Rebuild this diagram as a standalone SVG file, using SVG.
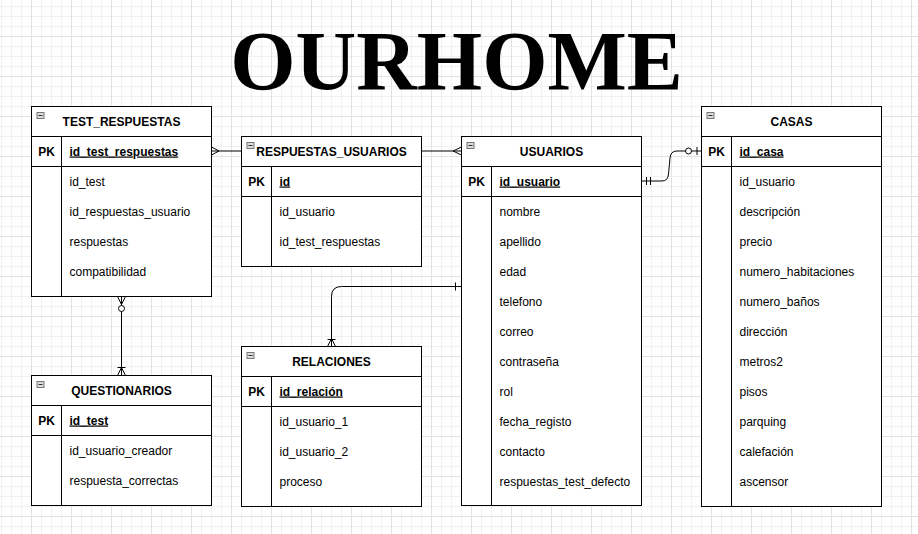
<svg xmlns="http://www.w3.org/2000/svg" width="918" height="534" viewBox="0 0 918 534">
<style>
.t{fill:#fff;stroke:#000;stroke-width:1}
.ln{fill:none;stroke:#000;stroke-width:1}
.hd{font-family:"Liberation Sans",Arial,sans-serif;font-size:12px;font-weight:bold;text-anchor:middle;fill:#000}
.pk{font-family:"Liberation Sans",Arial,sans-serif;font-size:12px;font-weight:bold;text-anchor:middle;fill:#000}
.pf{font-family:"Liberation Sans",Arial,sans-serif;font-size:12px;font-weight:bold;text-decoration:underline;fill:#000}
.f{font-family:"Liberation Sans",Arial,sans-serif;font-size:12px;fill:#000}
.ic{fill:#dcdcdc;stroke:#777;stroke-width:1}
.icm{stroke:#333;stroke-width:1}
.c{fill:none;stroke:#000;stroke-width:1}
.ci{fill:#fff;stroke:#000;stroke-width:1}
.title{font-family:"Liberation Serif","Times New Roman",serif;font-size:84px;font-weight:bold;text-anchor:middle;fill:#000}
</style>
<defs>
<pattern id="grid" x="31" y="36" width="40" height="40" patternUnits="userSpaceOnUse">
<path d="M10.5 0V40M20.5 0V40M30.5 0V40M0 10.5H40M0 20.5H40M0 30.5H40" fill="none" stroke="#f1f1f1" stroke-width="1"/>
<path d="M0.5 0V40M0 0.5H40" fill="none" stroke="#e2e2e2" stroke-width="1"/>
</pattern>
</defs>
<rect x="0" y="0" width="918" height="534" fill="#fff"/>
<rect x="0" y="0" width="918" height="534" fill="url(#grid)"/>

<text class="title" x="456.5" y="90">OURHOME</text>

<g id="connectors">
<!-- TEST_RESPUESTAS - RESPUESTAS_USUARIOS -->
<path class="c" d="M211.5 151H241.5"/>
<path class="c" d="M211.5 147L219 151L211.5 155"/>
<!-- RESPUESTAS_USUARIOS - USUARIOS -->
<path class="c" d="M421.5 151H461.5"/>
<path class="c" d="M461.5 147L453 151L461.5 155"/>
<!-- USUARIOS - CASAS -->
<path class="c" d="M641.5 181H662Q668 181 668.5 174L670 158Q670.5 151 677 151H701.5"/>
<path class="c" d="M646.5 177V185M650.5 177V185"/>
<circle class="ci" cx="688.5" cy="151" r="3"/>
<path class="c" d="M697 147V155"/>
<!-- TEST_RESPUESTAS - QUESTIONARIOS -->
<path class="c" d="M121.5 296.5V375.5"/>
<path class="c" d="M117.5 296.5L121.5 304.5L125.5 296.5"/>
<circle class="ci" cx="121.5" cy="308.5" r="3"/>
<path class="c" d="M117.5 375.5L121.5 367.5L125.5 375.5M117.5 367.5H125.5"/>
<!-- USUARIOS - RELACIONES -->
<path class="c" d="M461.5 286.5H341.5Q331.5 286.5 331.5 296.5V346.5"/>
<path class="c" d="M455.5 282.5V290.5"/>
<path class="c" d="M327.5 346.5L331.5 338.5L335.5 346.5M327.5 339.5H335.5"/>
</g>

<g id="test_respuestas">
<rect class="t" x="31.5" y="106.5" width="180" height="190"/>
<path class="ln" d="M31.5 136.5H211.5M31.5 166.5H211.5M61.5 136.5V296.5"/>
<rect class="ic" x="37" y="112.5" width="7" height="6"/>
<path class="icm" d="M38.5 115.5H42.5"/>
<text class="hd" x="121.5" y="125.5">TEST_RESPUESTAS</text>
<text class="pk" x="46.5" y="155.5">PK</text>
<text class="pf" x="69.5" y="155.5">id_test_respuestas</text>
<text class="f" x="69.5" y="185.5">id_test</text>
<text class="f" x="69.5" y="215.5">id_respuestas_usuario</text>
<text class="f" x="69.5" y="245.5">respuestas</text>
<text class="f" x="69.5" y="275.5">compatibilidad</text>
</g>

<g id="respuestas_usuarios">
<rect class="t" x="241.5" y="136.5" width="180" height="130"/>
<path class="ln" d="M241.5 166.5H421.5M241.5 196.5H421.5M271.5 166.5V266.5"/>
<rect class="ic" x="247" y="142.5" width="7" height="6"/>
<path class="icm" d="M248.5 145.5H252.5"/>
<text class="hd" x="331.5" y="155.5">RESPUESTAS_USUARIOS</text>
<text class="pk" x="256.5" y="185.5">PK</text>
<text class="pf" x="279.5" y="185.5">id</text>
<text class="f" x="279.5" y="215.5">id_usuario</text>
<text class="f" x="279.5" y="245.5">id_test_respuestas</text>
</g>

<g id="usuarios">
<rect class="t" x="461.5" y="136.5" width="180" height="369"/>
<path class="ln" d="M461.5 166.5H641.5M461.5 196.5H641.5M491.5 166.5V505.5"/>
<rect class="ic" x="467" y="142.5" width="7" height="6"/>
<path class="icm" d="M468.5 145.5H472.5"/>
<text class="hd" x="551.5" y="155.5">USUARIOS</text>
<text class="pk" x="476.5" y="185.5">PK</text>
<text class="pf" x="499.5" y="185.5">id_usuario</text>
<text class="f" x="499.5" y="215.5">nombre</text>
<text class="f" x="499.5" y="245.5">apellido</text>
<text class="f" x="499.5" y="275.5">edad</text>
<text class="f" x="499.5" y="305.5">telefono</text>
<text class="f" x="499.5" y="335.5">correo</text>
<text class="f" x="499.5" y="365.5">contraseña</text>
<text class="f" x="499.5" y="395.5">rol</text>
<text class="f" x="499.5" y="425.5">fecha_registo</text>
<text class="f" x="499.5" y="455.5">contacto</text>
<text class="f" x="499.5" y="485.5">respuestas_test_defecto</text>
</g>

<g id="casas">
<rect class="t" x="701.5" y="106.5" width="180" height="400"/>
<path class="ln" d="M701.5 136.5H881.5M701.5 166.5H881.5M731.5 136.5V506.5"/>
<rect class="ic" x="707" y="112.5" width="7" height="6"/>
<path class="icm" d="M708.5 115.5H712.5"/>
<text class="hd" x="791.5" y="125.5">CASAS</text>
<text class="pk" x="716.5" y="155.5">PK</text>
<text class="pf" x="739.5" y="155.5">id_casa</text>
<text class="f" x="739.5" y="185.5">id_usuario</text>
<text class="f" x="739.5" y="215.5">descripción</text>
<text class="f" x="739.5" y="245.5">precio</text>
<text class="f" x="739.5" y="275.5">numero_habitaciones</text>
<text class="f" x="739.5" y="305.5">numero_baños</text>
<text class="f" x="739.5" y="335.5">dirección</text>
<text class="f" x="739.5" y="365.5">metros2</text>
<text class="f" x="739.5" y="395.5">pisos</text>
<text class="f" x="739.5" y="425.5">parquing</text>
<text class="f" x="739.5" y="455.5">calefación</text>
<text class="f" x="739.5" y="485.5">ascensor</text>
</g>

<g id="questionarios">
<rect class="t" x="31.5" y="375.5" width="180" height="130"/>
<path class="ln" d="M31.5 405.5H211.5M31.5 435.5H211.5M61.5 405.5V505.5"/>
<rect class="ic" x="37" y="381.5" width="7" height="6"/>
<path class="icm" d="M38.5 384.5H42.5"/>
<text class="hd" x="121.5" y="394.5">QUESTIONARIOS</text>
<text class="pk" x="46.5" y="424.5">PK</text>
<text class="pf" x="69.5" y="424.5">id_test</text>
<text class="f" x="69.5" y="454.5">id_usuario_creador</text>
<text class="f" x="69.5" y="484.5">respuesta_correctas</text>
</g>

<g id="relaciones">
<rect class="t" x="241.5" y="346.5" width="180" height="160"/>
<path class="ln" d="M241.5 376.5H421.5M241.5 406.5H421.5M271.5 376.5V506.5"/>
<rect class="ic" x="247" y="352.5" width="7" height="6"/>
<path class="icm" d="M248.5 355.5H252.5"/>
<text class="hd" x="331.5" y="365.5">RELACIONES</text>
<text class="pk" x="256.5" y="395.5">PK</text>
<text class="pf" x="279.5" y="395.5">id_relación</text>
<text class="f" x="279.5" y="425.5">id_usuario_1</text>
<text class="f" x="279.5" y="455.5">id_usuario_2</text>
<text class="f" x="279.5" y="485.5">proceso</text>
</g>
</svg>
